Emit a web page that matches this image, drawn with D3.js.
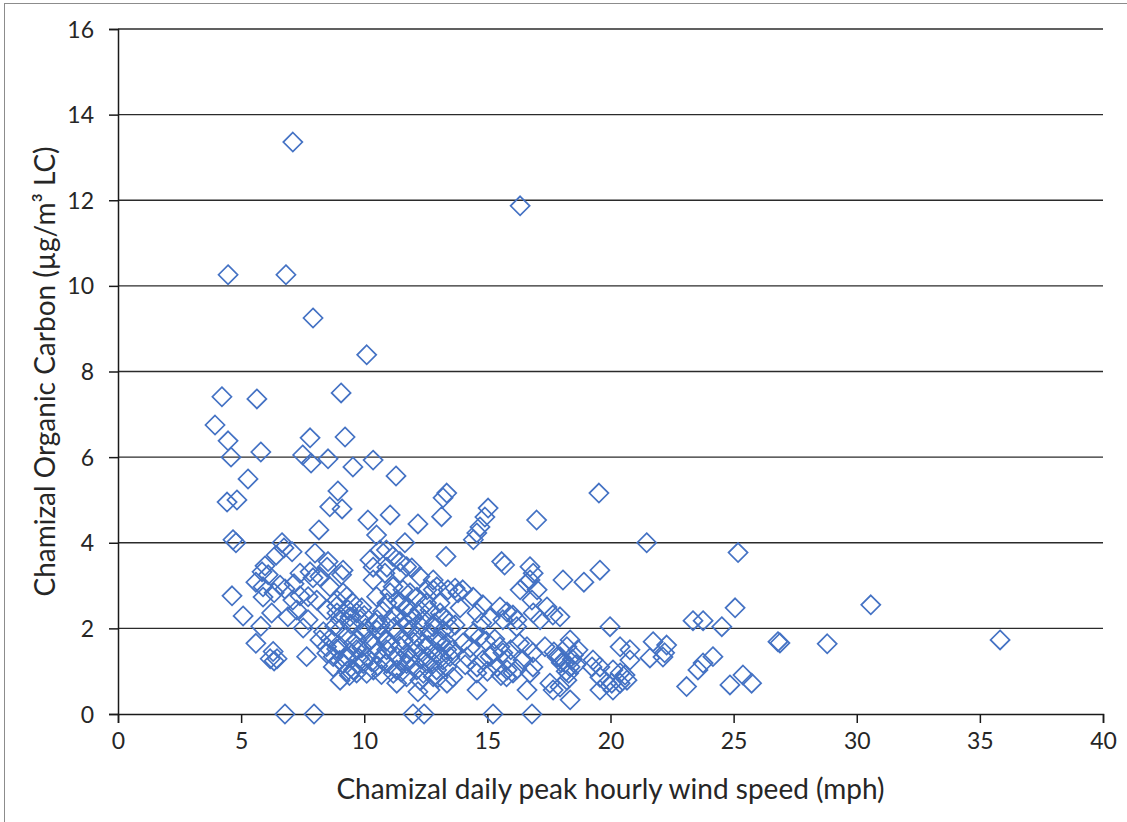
<!DOCTYPE html>
<html><head><meta charset="utf-8">
<script src="https://cdn.jsdelivr.net/npm/d3@7"></script>
<style>
body{margin:0;background:#fff;}
svg text{font-family:Lato,"Noto Sans",sans-serif;fill:#262626;}
</style>
</head><body>
<svg id="chart" width="1127" height="822"></svg>
<script>
// Chamizal daily peak hourly wind speed (mph)
const windSpeed = [
  3.94,4.22,4.47,4.47,4.59,4.43,4.83,4.67,4.79,4.63,5.08,5.28,5.64,5.8,5.6,5.85,5.97,5.89,5.89,5.8,5.6,
  6.1,6.42,6.66,6.74,7.07,6.58,6.78,7.15,6.34,7.39, 7.1,7.72,6.24,6.9,7.26,7.72,7.52,6.18,6.34,6.46,
  6.3,7.66,6.78,7.96,7.1,6.82,7.92,7.8,7.5,7.84, 7.39,7.8,8.0,7.92,
  8.53,9.06,9.22,9.54,8.93,8.6,9.1,8.16,8.53,9.14, 9.08,8.2,8.07,8.88,9.29,9.34,9.69,9.02,9.02,9.69,
  9.9,8.49,8.61,8.89,9.54,8.49,8.89,9.42,9.83,8.2, 8.47,8.74,8.34,8.61,9.02,9.29,9.56,9.96,8.48,8.88,
  9.29,9.69,8.74,9.15,9.56,9.96,9.4,9.14,
  10.1,10.36,11.29,10.15,11.05,10.5,11.65,10.23,10.9,10.64, 11.17,11.45,10.36,10.84,11.93,11.45,11.72,10.36,10.92,11.17,
  11.57,11.86,10.5,11.05,11.45,10.92,11.33,11.74,11.86,10.52, 10.44,11.05,11.57,10.23,10.51,10.77,11.05,11.32,11.59,11.86,
  10.1,10.51,10.91,11.32,11.72,10.37,10.91,11.32,11.72,11.18, 11.72,11.32,11.98,
  12.43,12.18,12.26,12.8,13.32,13.35,13.2,13.14,12.8,13.69, 14.0,12.53,13.08,13.35,12.8,12.18,12.67,12.14,12.55,12.95,
  12.26,12.67,13.08,13.2,12.13,12.4,12.67,12.94,13.21,12.13, 12.54,12.94,13.35,12.13,12.54,12.94,13.35,12.26,12.8,13.4,
  13.81,13.89,13.36,13.6,14.01,13.2,13.48,13.6,13.36,13.69,
  14.42,14.82,14.58,15.11,14.7,15.51,15.8,16.04,15.63,16.2, 16.33,16.61,17.02,16.81,17.42,17.66,17.14,14.17,14.3,14.58,
  14.82,15.23,15.51,15.39,15.8,15.8,16.04,14.58,16.61,16.85, 16.45,16.85,16.73,16.61,17.83,17.54,15.23,16.81,16.33,15.03,
  14.9,14.7,14.57,14.43,17.0,15.58,15.7,16.73,16.86,16.73, 16.86,16.19,14.77,14.95,15.63,17.34,14.57,15.78,15.11,17.67,
  18.07,18.92,19.57,19.53,21.47,19.98,18.36,20.39,20.79,17.95, 18.15,18.36,18.6,18.5,18.2,18.68,18.23,19.29,19.57,20.1,
  20.39,19.57,20.05,18.36,21.73,22.28,21.6,22.2,17.95,18.23, 17.95,19.57,19.86,20.79,20.59,20.39,20.67,20.1,22.13,23.09,
  19.25,
  23.35,23.76,24.52,25.06,25.18,24.16,23.76,23.55,25.38,25.73, 24.85,26.8,26.88,28.8,30.57,35.82,
  8.8,9.45,10.05,10.65,11.2,11.75,12.3,12.85,13.5, 8.95,9.7,10.4,10.9,11.45,12.0,12.6,13.1,
  9.0,9.8,10.3,10.7,11.5,12.3,12.75,13.1, 9.3,10.1,10.7,11.5,12.4,13.0,
  10.0,10.75,11.25,12.0,12.45, 9.9,11.85,10.55,9.5,
  18.0,18.45,18.3,17.7, 14.1,14.45,15.0,15.3,15.95,16.3,15.55,16.2
];
// Chamizal Organic Carbon (ug/m3 LC)
const organicCarbon = [
  6.75,7.41,10.26,6.38,6.0,4.95,5.0,4.07,4.0,2.76,2.29,5.49,7.36,6.12,3.08,3.32,3.46,2.73,2.97,2.05,1.65,
  3.25,3.71,4.0,3.88,3.79,3.01,2.92,3.04,2.83,2.76, 2.66,2.74,2.36,2.27,2.43,2.2,2.01,1.29,1.24,1.29,
  1.46,1.34,0,0,13.36,10.26,9.25,6.45,6.05,5.86, 3.29,3.32,3.76,3.18,
  5.96,7.5,6.47,5.77,5.21,4.84,4.79,4.3,3.56,3.36, 3.25,3.21,2.66,2.51,2.74,2.43,2.36,2.2,0.79,0.96,
  2.48,3.43,2.97,2.66,2.59,2.43,2.36,2.27,2.2,1.73, 1.57,1.34,1.92,1.76,1.98,1.81,1.65,1.89,1.42,1.52,
  1.34,1.5,1.1,1.18,1.03,1.18,0.9,2.83,
  8.39,5.93,5.56,4.53,4.65,4.18,4.0,3.6,3.83,3.83, 3.68,3.56,3.13,3.29,3.41,3.3,3.44,3.43,3.43,2.97,
  2.9,2.83,2.74,2.83,2.59,2.59,2.66,2.5,2.36,2.2, 2.13,2.2,2.2,1.73,1.96,1.81,1.65,1.89,1.73,1.96,
  1.34,1.42,1.5,1.34,1.42,1.03,1.18,1.03,1.18,0.95, 0.87,0.72,0,
  0,4.44,3.21,3.13,3.68,5.16,5.05,4.61,2.9,2.94, 2.9,2.59,2.36,2.2,2.04,0.52,0.56,2.73,2.9,2.97,
  2.43,2.43,2.59,2.27,1.81,1.65,1.89,1.73,1.96,1.5, 1.34,1.42,1.5,1.03,1.18,1.03,1.1,0.79,0.87,2.9,
  2.83,2.48,1.66,1.5,1.66,1.26,1.34,0.86,0.72,2.08,
  2.73,2.55,2.36,2.24,1.8,2.5,2.38,2.31,2.2,2.2, 2.9,3.06,2.9,2.66,2.5,2.31,2.2,1.33,1.55,1.1,
  1.26,1.43,1.57,1.1,1.03,1.26,0.96,0.56,1.57,1.43, 1.26,1.1,0.96,0.56,1.33,0.72,0,0,11.87,4.81,
  4.6,4.37,4.23,4.07,4.53,3.56,3.48,3.44,3.29,3.13, 2.36,2.04,2.13,1.7,1.43,1.57,0.96,0.87,1.34,0.56,
  3.13,3.08,3.36,5.16,4.0,2.04,1.73,1.57,1.5,1.34, 1.19,1.1,1.15,1.38,1.0,1.5,1.57,1.26,1.1,1.03,
  0.96,0.56,0.72,0.33,1.69,1.61,1.31,1.43,2.27,0.79, 0.63,0.86,0.72,1.26,0.91,0.72,0.79,0.56,1.33,0.64,
  1.1,
  2.18,2.18,2.04,2.48,3.77,1.34,1.19,1.03,0.91,0.72, 0.68,1.69,1.66,1.64,2.55,1.73,
  2.05,2.1,2.0,2.08,2.02,2.1,2.05,2.12,2.0, 1.62,1.72,1.6,1.7,1.58,1.68,1.6,1.7,
  1.25,1.3,1.22,1.28,1.25,1.28,1.22,1.3, 1.0,0.95,0.92,0.98,0.95,0.85,
  2.3,2.4,2.3,2.25,2.2, 1.55,1.3,1.12,1.4,
  1.2,1.28,0.95,1.45, 1.15,1.9,1.0,1.75,1.5,1.65,0.9,1.05
];
const xTicks = [0,5,10,15,20,25,30,35,40];
const yTicks = [0,2,4,6,8,10,12,14,16];
const xTitle = "Chamizal daily peak hourly wind speed (mph)";
const yTitle = "Chamizal Organic Carbon (µg/m³ LC)";

const svg = d3.select("#chart");
const plot = {left:118, right:1103, top:29, bottom:714};

const x = d3.scaleLinear().domain([0,40]).range([plot.left, plot.right]);
const y = d3.scaleLinear().domain([0,16]).range([plot.bottom, plot.top]);

// outer chart border
svg.append("rect").attr("x",4.5).attr("y",3.5).attr("width",1200).attr("height",1000)
  .attr("fill","none").attr("stroke","#8c8c8c").attr("stroke-width",1);

// gridlines
svg.append("g").selectAll("line").data(yTicks.filter(d=>d>0)).join("line")
  .attr("x1",x(0)).attr("x2",x(40)).attr("y1",d=>y(d)).attr("y2",d=>y(d))
  .attr("stroke","#2b2b2b").attr("stroke-width",1.4);

// axes
const gx = svg.append("g").attr("transform",`translate(0,${plot.bottom})`)
  .call(d3.axisBottom(x).tickValues(xTicks).tickSize(9).tickPadding(10).tickFormat(d3.format("d")));
const gy = svg.append("g").attr("transform",`translate(${plot.left},0)`)
  .call(d3.axisLeft(y).tickValues(yTicks).tickSize(9).tickPadding(15).tickFormat(d3.format("d")));
[gx,gy].forEach(g=>{
  g.select(".domain").attr("stroke","#1a1a1a").attr("stroke-width",1.5);
  g.selectAll(".tick line").attr("stroke","#1a1a1a").attr("stroke-width",1.5);
  g.selectAll(".tick text").attr("font-family","Lato, 'Noto Sans', sans-serif")
    .attr("font-size",23).attr("fill","#262626");
});
gy.selectAll(".tick text").attr("dy","0.35em");

// points
const pts = d3.zip(windSpeed, organicCarbon);
const sym = d3.symbol().type(d3.symbolDiamond2).size(232);
svg.append("g").selectAll("path").data(pts).join("path")
  .attr("transform",d=>`translate(${x(d[0])},${y(d[1])})`)
  .attr("d",sym)
  .attr("fill","none").attr("stroke","#4472C4").attr("stroke-width",1.7);

// titles
svg.append("text").attr("x",(plot.left+plot.right)/2).attr("y",799)
  .attr("text-anchor","middle").attr("font-size",28).text(xTitle);
svg.append("text").attr("transform",`translate(55,${(plot.top+plot.bottom)/2}) rotate(-90)`)
  .attr("text-anchor","middle").attr("font-size",28).text(yTitle);
</script>
</body></html>
